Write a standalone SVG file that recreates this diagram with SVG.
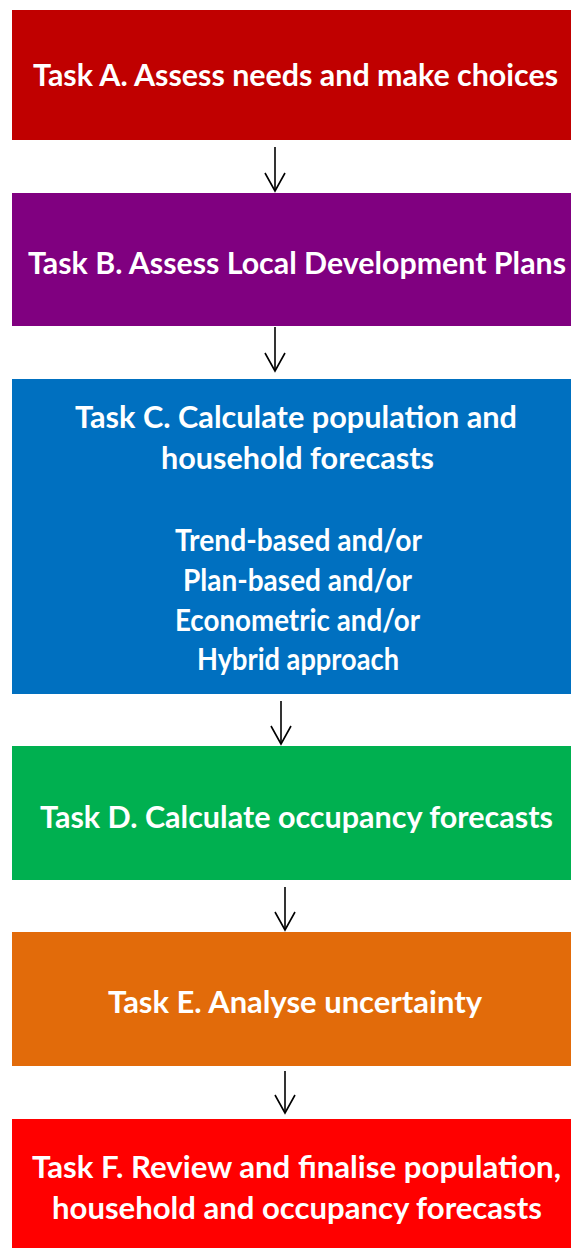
<svg xmlns="http://www.w3.org/2000/svg" width="571" height="1248" viewBox="0 0 571 1248">
  <defs>
    <style>
      .box { stroke: none; }
      .lbl { font-family: Lato, "Open Sans", "Liberation Sans", sans-serif; font-weight: 700; font-size: 30px; fill: #FFFFFF; text-anchor: middle; }
      .conn line, .conn path { stroke: #000000; stroke-width: 1.6; fill: none; }
    </style>
  </defs>
  <rect x="0" y="0" width="571" height="1248" fill="#FFFFFF"/>

  <g id="task-a">
    <rect class="box" x="12" y="10" width="559" height="130" fill="#C00000"/>
    <text class="lbl" x="295.5" y="86" textLength="525" lengthAdjust="spacingAndGlyphs">Task A. Assess needs and make choices</text>
  </g>

  <g id="task-b">
    <rect class="box" x="12" y="193" width="559" height="133" fill="#800080"/>
    <text class="lbl" x="297" y="274" textLength="538" lengthAdjust="spacingAndGlyphs">Task B. Assess Local Development Plans</text>
  </g>

  <g id="task-c">
    <rect class="box" x="12" y="379" width="559" height="315" fill="#0070C0"/>
    <text class="lbl" x="296" y="428" textLength="442" lengthAdjust="spacingAndGlyphs">Task C. Calculate population and</text>
    <text class="lbl" x="297.5" y="469" textLength="273" lengthAdjust="spacingAndGlyphs">household forecasts</text>
    <text class="lbl" x="298.5" y="551" textLength="247" lengthAdjust="spacingAndGlyphs">Trend-based and/or</text>
    <text class="lbl" x="297.5" y="591" textLength="229" lengthAdjust="spacingAndGlyphs">Plan-based and/or</text>
    <text class="lbl" x="297.5" y="631" textLength="245" lengthAdjust="spacingAndGlyphs">Econometric and/or</text>
    <text class="lbl" x="298" y="670" textLength="202" lengthAdjust="spacingAndGlyphs">Hybrid approach</text>
  </g>

  <g id="task-d">
    <rect class="box" x="12" y="746" width="559" height="134" fill="#00B050"/>
    <text class="lbl" x="296.5" y="828" textLength="513" lengthAdjust="spacingAndGlyphs">Task D. Calculate occupancy forecasts</text>
  </g>

  <g id="task-e">
    <rect class="box" x="12" y="932" width="559" height="134" fill="#E26B0A"/>
    <text class="lbl" x="295" y="1013" textLength="374" lengthAdjust="spacingAndGlyphs">Task E. Analyse uncertainty</text>
  </g>

  <g id="task-f">
    <rect class="box" x="12" y="1119" width="559" height="129" fill="#FF0000"/>
    <text class="lbl" x="296.5" y="1178" textLength="529" lengthAdjust="spacingAndGlyphs">Task F. Review and finalise population,</text>
    <text class="lbl" x="297" y="1219" textLength="490" lengthAdjust="spacingAndGlyphs">household and occupancy forecasts</text>
  </g>

  <!-- downward arrows between consecutive tasks, open V heads -->
  <g id="connectors" class="conn">
    <line x1="275" y1="147" x2="275" y2="190"/>
    <path d="M265,173 L275,191 L285,173"/>
    <line x1="275" y1="327" x2="275" y2="370"/>
    <path d="M265,353 L275,371 L285,353"/>
    <line x1="281" y1="701" x2="281" y2="743"/>
    <path d="M271,726 L281,744 L291,726"/>
    <line x1="285" y1="887" x2="285" y2="929"/>
    <path d="M275,912 L285,930 L295,912"/>
    <line x1="285" y1="1071" x2="285" y2="1112"/>
    <path d="M275,1095 L285,1113 L295,1095"/>
  </g>
</svg>
